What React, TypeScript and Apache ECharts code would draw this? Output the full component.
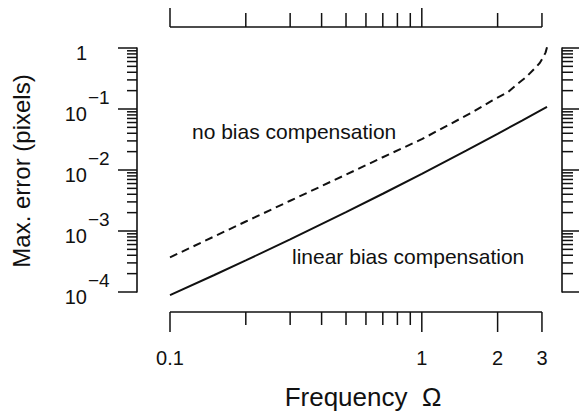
import { useEffect, useRef } from 'react';
import * as echarts from 'echarts';

// ---- data ----
const omegaLinear = [0.1, 0.15, 0.2, 0.3, 0.5, 0.7, 1, 1.5, 2, 2.5, 3, 3.1416];
const errLinear = [8.9e-5, 1.9e-4, 3.3e-4, 7.3e-4, 2.04e-3, 4.08e-3, 8.67e-3, 0.0208, 0.0392, 0.0644, 0.0973, 0.108];
const omegaNoBias = [0.1, 0.2, 0.3, 0.5, 0.7, 1, 1.3, 1.6, 1.9, 2.2, 2.4, 2.6, 2.8, 2.94, 3.02, 3.1, 3.1416];
const errNoBias = [3.7e-4, 1.43e-3, 3.13e-3, 8.4e-3, 0.0162, 0.032, 0.057, 0.09, 0.137, 0.19, 0.258, 0.335, 0.458, 0.567, 0.686, 0.84, 1.03];

const xMin = 0.1; // axis start
const xEnd = 3; // last tick / end of the drawn axis line
const xDomainMax = Math.PI; // curves run up to pi
const yMin = 1e-4;
const yMax = 1;

const xLabeledTicks = [0.1, 1, 2, 3];
const xTickLabels = ['0.1', '1', '2', '3'];
const xMinorTicks = [0.2, 0.3, 0.4, 0.5, 0.6, 0.7, 0.8, 0.9];
const xTopLongTicks = [0.1, 1];
const xTopShortTicks = [0.2, 0.3, 0.4, 0.5, 0.6, 0.7, 0.8, 0.9, 2, 3];

const yDecadeTicks = [1e-4, 1e-3, 1e-2, 1e-1, 1];
const yDecadeExponents = ['−4', '−3', '−2', '−1', ''];
const yMinorDecades = [1e-4, 1e-3, 1e-2, 1e-1];
const yMinorMantissas = [2, 3, 4, 5, 6, 7, 8, 9];

const xTitle = 'Frequency  Ω';
const yTitle = 'Max. error (pixels)';
const noBiasLabel = 'no bias compensation';
const linearLabel = 'linear bias compensation';

// ---- style constants ----
const FONT = 'Liberation Sans, Arial, Helvetica, sans-serif';
const INK = '#111';
const OFF_BOTTOM = 20;
const OFF_TOP = 21;
const OFF_LEFT = 33;
const OFF_RIGHT = 15;
const AXW = 1.6;

const tickStyle = { stroke: INK, lineWidth: 1.5 };
const axisStyle = { stroke: INK, lineWidth: AXW };

function customBase() {
  return {
    type: 'custom',
    coordinateSystem: 'cartesian2d',
    xAxisIndex: 0,
    yAxisIndex: 0,
    clip: false,
    silent: true,
    z: 5,
  };
}

function xAxisLinesSeries() {
  return {
    ...customBase(),
    data: [[xMin, yMin]],
    renderItem: (_params: any, api: any) => {
      const b0 = api.coord([xMin, yMin]);
      const b1 = api.coord([xEnd, yMin]);
      const t0 = api.coord([xMin, yMax]);
      const t1 = api.coord([xEnd, yMax]);
      return {
        type: 'group',
        children: [
          { type: 'line', shape: { x1: b0[0], y1: b0[1] + OFF_BOTTOM, x2: b1[0], y2: b1[1] + OFF_BOTTOM }, style: axisStyle },
          { type: 'line', shape: { x1: t0[0], y1: t0[1] - OFF_TOP, x2: t1[0], y2: t1[1] - OFF_TOP }, style: axisStyle },
        ],
      };
    },
  };
}

function xTickSeries(values: number[], side: 'bottom' | 'top', len: number, labels?: string[]) {
  return {
    ...customBase(),
    data: values.map((v) => [v, side === 'bottom' ? yMin : yMax]),
    renderItem: (params: any, api: any) => {
      const v = api.value(0);
      const children: any[] = [];
      if (side === 'bottom') {
        const b = api.coord([v, yMin]);
        const yb = b[1] + OFF_BOTTOM;
        children.push({ type: 'line', shape: { x1: b[0], y1: yb, x2: b[0], y2: yb + len }, style: tickStyle });
        if (labels) {
          children.push({
            type: 'text',
            x: b[0],
            y: yb + 46,
            style: {
              text: labels[params.dataIndex],
              font: `20px ${FONT}`,
              fill: INK,
              align: 'center',
              verticalAlign: 'middle',
            },
          });
        }
      } else {
        const t = api.coord([v, yMax]);
        const yt = t[1] - OFF_TOP;
        children.push({ type: 'line', shape: { x1: t[0], y1: yt, x2: t[0], y2: yt - len }, style: tickStyle });
      }
      return { type: 'group', children };
    },
  };
}

function yTickSeries(values: number[], leftLen: number, rightLen: number, exps?: string[]) {
  return {
    ...customBase(),
    data: values.map((v) => [xMin, v]),
    renderItem: (params: any, api: any) => {
      const v = api.value(1);
      const l = api.coord([xMin, v]);
      const r = api.coord([xDomainMax, v]);
      const xl = l[0] - OFF_LEFT;
      const xr = r[0] + OFF_RIGHT;
      const children: any[] = [
        { type: 'line', shape: { x1: xl, y1: l[1], x2: xl - leftLen, y2: l[1] }, style: tickStyle },
        { type: 'line', shape: { x1: xr, y1: r[1], x2: xr + rightLen, y2: r[1] }, style: tickStyle },
      ];
      if (exps) {
        const e = exps[params.dataIndex];
        children.push({
          type: 'text',
          x: xl - 50,
          y: l[1] + 5,
          style: {
            text: e ? '10' : '1',
            font: `20px ${FONT}`,
            fill: INK,
            align: 'right',
            verticalAlign: 'middle',
          },
        });
        if (e) {
          children.push({
            type: 'text',
            x: xl - 49,
            y: l[1] - 12,
            style: {
              text: e,
              font: `19px ${FONT}`,
              fill: INK,
              align: 'left',
              verticalAlign: 'middle',
            },
          });
        }
      }
      return { type: 'group', children };
    },
  };
}

function logAxis(min: number, max: number, position: string, offset: number, showLine: boolean) {
  return {
    type: 'log',
    logBase: 10,
    min,
    max,
    position,
    offset,
    axisLine: { show: showLine, lineStyle: { color: INK, width: AXW } },
    axisTick: { show: false },
    axisLabel: { show: false },
    splitLine: { show: false },
    minorTick: { show: false },
  };
}

export default function App() {
  const ref = useRef<HTMLDivElement>(null);
  useEffect(() => {
    if (!ref.current) return;
    const chart = echarts.init(ref.current, undefined, { renderer: 'svg' });
    const yMinorTicks: number[] = [];
    yMinorDecades.forEach((d) => yMinorMantissas.forEach((m) => yMinorTicks.push(m * d)));
    const option: any = {
      animation: false,
      backgroundColor: '#fff',
      grid: { left: 170, right: 32, top: 48, bottom: 120, containLabel: false },
      xAxis: [
        logAxis(xMin, xDomainMax, 'bottom', OFF_BOTTOM, false),
        logAxis(xMin, xDomainMax, 'top', OFF_TOP, false),
      ],
      yAxis: [
        logAxis(yMin, yMax, 'left', OFF_LEFT, true),
        logAxis(yMin, yMax, 'right', OFF_RIGHT, true),
      ],
      graphic: [
        {
          type: 'text',
          x: 363,
          y: 397,
          style: { text: xTitle, font: `26px ${FONT}`, fill: INK, align: 'center', verticalAlign: 'middle' },
        },
        {
          type: 'text',
          x: 21,
          y: 171,
          rotation: Math.PI / 2,
          style: { text: yTitle, font: `24px ${FONT}`, fill: INK, align: 'center', verticalAlign: 'middle' },
        },
        {
          type: 'text',
          x: 192,
          y: 131,
          style: { text: noBiasLabel, font: `21px ${FONT}`, fill: INK, align: 'left', verticalAlign: 'middle' },
        },
        {
          type: 'text',
          x: 292,
          y: 256,
          style: { text: linearLabel, font: `21px ${FONT}`, fill: INK, align: 'left', verticalAlign: 'middle' },
        },
      ],
      series: [
        {
          name: 'linear bias compensation',
          type: 'line',
          data: omegaLinear.map((x, i) => [x, errLinear[i]]),
          symbol: 'none',
          clip: false,
          lineStyle: { color: INK, width: 2 },
        },
        {
          name: 'no bias compensation',
          type: 'line',
          data: omegaNoBias.map((x, i) => [x, errNoBias[i]]),
          symbol: 'none',
          clip: false,
          lineStyle: { color: INK, width: 2, type: [8, 5] },
        },
        xAxisLinesSeries(),
        xTickSeries(xLabeledTicks, 'bottom', 20, xTickLabels),
        xTickSeries(xMinorTicks, 'bottom', 13),
        xTickSeries(xTopLongTicks, 'top', 19),
        xTickSeries(xTopShortTicks, 'top', 14),
        yTickSeries(yDecadeTicks, 19, 20, yDecadeExponents),
        yTickSeries(yMinorTicks, 10, 11),
      ],
    };
    chart.setOption(option);
    return () => chart.dispose();
  }, []);
  return (
    <div
      ref={ref}
      style={{ position: 'fixed', left: 0, top: 0, width: 579, height: 412, background: '#fff' }}
    />
  );
}
